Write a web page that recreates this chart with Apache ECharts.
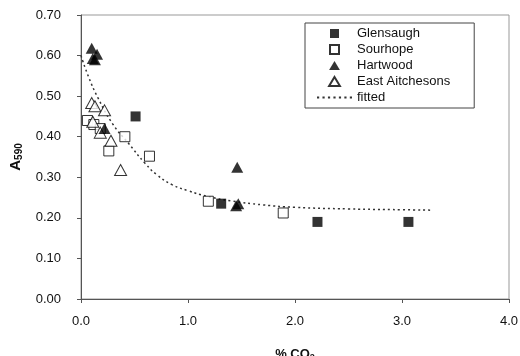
<!DOCTYPE html>
<html>
<head>
<meta charset="utf-8">
<script src="https://cdn.jsdelivr.net/npm/echarts@6/dist/echarts.min.js"></script>
<style>
  html, body { margin: 0; padding: 0; background: #fff; }
  #main { width: 520px; height: 356px; }
</style>
</head>
<body>
<div id="main"></div>
<script>
// points: [% CO2, A590]
var glensaugh = [[0.51, 0.45], [1.31, 0.235], [2.21, 0.19], [3.06, 0.19]];
var sourhope = [[0.06, 0.44], [0.12, 0.43], [0.18, 0.42], [0.26, 0.365], [0.41, 0.40], [0.64, 0.352], [1.19, 0.241], [1.89, 0.212]];
var hartwood = [[0.10, 0.618], [0.15, 0.603], [0.11, 0.593], [0.13, 0.59], [0.22, 0.42], [1.46, 0.325], [1.45, 0.23], [1.47, 0.235]];
var eastAitchesons = [[0.10, 0.483], [0.13, 0.475], [0.22, 0.465], [0.11, 0.437], [0.18, 0.41], [0.28, 0.39], [0.37, 0.318]];
var fittedX = [0.0, 0.07, 0.16, 0.3, 0.44, 0.6, 0.71, 0.85, 1.0, 1.18, 1.4, 1.7, 2.0, 2.5, 3.0, 3.28];
var fittedY = [0.60, 0.548, 0.495, 0.43, 0.385, 0.334, 0.306, 0.282, 0.267, 0.253, 0.242, 0.232, 0.226, 0.222, 0.22, 0.219];

var fitted = [];
for (var i = 0; i < fittedX.length; i++) {
  fitted.push([fittedX[i], fittedY[i]]);
}

// marker shapes (paths keep their aspect inside the legend box)
var squarePath = "path://M0,0H10V10H0Z";
var trianglePath = "path://M6,0L12,10H0Z";
var dotsPath = "path://M0,0h2v2h-2z M5,0h2v2h-2z M10,0h2v2h-2z M15,0h2v2h-2z M20,0h2v2h-2z M25,0h2v2h-2z M30,0h2v2h-2z";

var font = "'Liberation Sans', Arial, sans-serif";
var chart = echarts.init(document.getElementById("main"));

chart.setOption({
  animation: false,
  textStyle: { fontFamily: font },
  grid: {
    left: 81,
    right: 11,
    top: 15,
    bottom: 57,
    outerBoundsMode: "none",
    containLabel: false,
    show: true,
    borderColor: "#999",
    borderWidth: 1
  },
  legend: {
    orient: "vertical",
    left: 305,
    top: 23,
    padding: [4, 24, 4, 12],
    itemWidth: 35,
    itemHeight: 9,
    itemGap: 3,
    borderColor: "#444",
    borderWidth: 1,
    textStyle: { fontSize: 13, color: "#111", fontFamily: font, lineHeight: 13 },
    data: [
      { name: "Glensaugh", icon: squarePath },
      { name: "Sourhope", icon: squarePath },
      { name: "Hartwood", icon: trianglePath },
      { name: "East Aitchesons", icon: trianglePath },
      { name: "fitted", icon: dotsPath, itemStyle: { color: "#333" } }
    ]
  },
  xAxis: {
    type: "value",
    min: 0,
    max: 4,
    interval: 1,
    name: "{a|% CO}{s|2}",
    nameLocation: "middle",
    nameGap: 48,
    nameTextStyle: {
      rich: {
        a: { fontSize: 13, fontWeight: "bold", color: "#111", fontFamily: font },
        s: { fontSize: 9, fontWeight: "bold", color: "#111", fontFamily: font, padding: [6, 0, 0, 0] }
      }
    },
    axisLine: { lineStyle: { color: "#555" } },
    axisTick: { show: true, length: 4, lineStyle: { color: "#555" } },
    axisLabel: {
      margin: 16,
      fontSize: 13,
      color: "#111",
      formatter: function (v) { return v.toFixed(1); }
    },
    splitLine: { show: false }
  },
  yAxis: {
    type: "value",
    min: 0,
    max: 0.7,
    interval: 0.1,
    name: "{a|A}{s|590}",
    nameLocation: "middle",
    nameGap: 57,
    nameRotate: 90,
    nameTextStyle: {
      rich: {
        a: { fontSize: 15, fontWeight: "bold", color: "#111", fontFamily: font },
        s: { fontSize: 10, fontWeight: "bold", color: "#111", fontFamily: font, padding: [6, 0, 0, 0] }
      }
    },
    axisLine: { show: true, lineStyle: { color: "#555" } },
    axisTick: { show: true, length: 4, lineStyle: { color: "#555" } },
    axisLabel: {
      margin: 20,
      fontSize: 13,
      color: "#111",
      formatter: function (v) { return v.toFixed(2); }
    },
    splitLine: { show: false }
  },
  series: [
    {
      name: "fitted",
      type: "line",
      data: fitted,
      smooth: true,
      showSymbol: false,
      symbol: "none",
      itemStyle: { color: "#333" },
      lineStyle: { color: "#333", width: 1.5, type: [2, 3] },
      z: 1
    },
    {
      name: "Glensaugh",
      type: "scatter",
      data: glensaugh,
      symbol: squarePath,
      symbolSize: 10,
      itemStyle: { color: "#000" },
      z: 3
    },
    {
      name: "Sourhope",
      type: "scatter",
      data: sourhope,
      symbol: squarePath,
      symbolSize: 10,
      itemStyle: { color: "#fff", borderColor: "#000", borderWidth: 1 },
      z: 2
    },
    {
      name: "Hartwood",
      type: "scatter",
      data: hartwood,
      symbol: trianglePath,
      symbolSize: [12, 11],
      itemStyle: { color: "#000" },
      z: 3
    },
    {
      name: "East Aitchesons",
      type: "scatter",
      data: eastAitchesons,
      symbol: trianglePath,
      symbolSize: [12, 11],
      itemStyle: { color: "#fff", borderColor: "#000", borderWidth: 1 },
      z: 2
    }
  ]
});
</script>
</body>
</html>
